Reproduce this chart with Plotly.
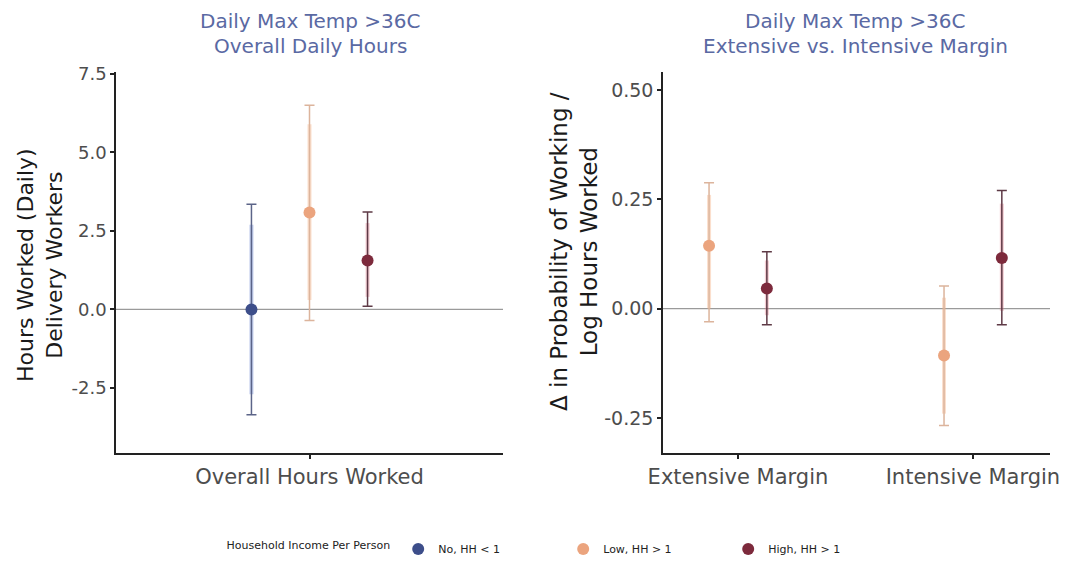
import plotly.graph_objects as go

# ---------------- data ----------------
legend_title = "Household Income Per Person"

# Left panel: Overall Hours Worked
left_category = ["Overall Hours Worked"]
left_groups = ["No, HH < 1", "Low, HH > 1", "High, HH > 1"]
left_est = [0.0, 3.09, 1.56]
left_lo95 = [-3.35, -0.35, 0.10]
left_hi95 = [3.35, 6.50, 3.10]
left_lo90 = [-2.70, 0.30, 0.40]
left_hi90 = [2.70, 5.90, 2.75]

# Right panel: Extensive vs Intensive margin
right_categories = ["Extensive Margin", "Intensive Margin"]
right_groups = ["Low, HH > 1", "High, HH > 1"]
# per group, values for [Extensive, Intensive]
right_est = {"Low, HH > 1": [0.144, -0.107], "High, HH > 1": [0.046, 0.116]}
right_lo95 = {"Low, HH > 1": [-0.030, -0.267], "High, HH > 1": [-0.037, -0.037]}
right_hi95 = {"Low, HH > 1": [0.288, 0.052], "High, HH > 1": [0.130, 0.270]}
right_lo90 = {"Low, HH > 1": [0.000, -0.240], "High, HH > 1": [-0.015, -0.005]}
right_hi90 = {"Low, HH > 1": [0.260, 0.025], "High, HH > 1": [0.110, 0.240]}

left_yticks = [-2.5, 0.0, 2.5, 5.0, 7.5]
right_yticks = [-0.25, 0.0, 0.25, 0.50]

title_line1 = "Daily Max Temp >36C"
left_title_line2 = "Overall Daily Hours"
right_title_line2 = "Extensive vs. Intensive Margin"
left_ytitle = "Hours Worked (Daily)<br>Delivery Workers"
right_ytitle = "Δ in Probability of Working /<br>Log Hours Worked"

# ---------------- style ----------------
FONT = "DejaVu Sans, Liberation Sans, sans-serif"
point_col = {"No, HH < 1": "#3d4e8a", "Low, HH > 1": "#eba47e", "High, HH > 1": "#7d2a3c"}
inner_col = {"No, HH < 1": "rgba(120,145,215,0.45)", "Low, HH > 1": "rgba(246,175,130,0.40)",
             "High, HH > 1": "rgba(220,110,125,0.35)"}
whisk_col = {"No, HH < 1": "#5b6488", "Low, HH > 1": "#dcb49c", "High, HH > 1": "#5e3a46"}
left_offsets = {"No, HH < 1": -0.18, "Low, HH > 1": 0.0, "High, HH > 1": 0.18}
right_offsets = {"Low, HH > 1": -0.123, "High, HH > 1": 0.123}

fig = go.Figure()


def add_pointrange(xaxis, yaxis, xs, est, lo95, hi95, lo90, hi90, g, showlegend):
    fig.add_trace(go.Scatter(
        x=xs, y=est, mode="markers", xaxis=xaxis, yaxis=yaxis,
        marker=dict(size=1, color="rgba(0,0,0,0)"),
        error_y=dict(type="data", symmetric=False,
                     array=[h - e for h, e in zip(hi90, est)],
                     arrayminus=[e - l for e, l in zip(est, lo90)],
                     color=inner_col[g], thickness=4, width=0),
        showlegend=False, hoverinfo="skip"))
    fig.add_trace(go.Scatter(
        x=xs, y=est, mode="markers", xaxis=xaxis, yaxis=yaxis,
        marker=dict(size=1, color="rgba(0,0,0,0)"),
        error_y=dict(type="data", symmetric=False,
                     array=[h - e for h, e in zip(hi95, est)],
                     arrayminus=[e - l for e, l in zip(est, lo95)],
                     color=whisk_col[g], thickness=1.5, width=5),
        showlegend=False, hoverinfo="skip"))
    fig.add_trace(go.Scatter(
        x=xs, y=est, mode="markers", xaxis=xaxis, yaxis=yaxis,
        marker=dict(size=12, color=point_col[g]),
        name=g, legendgroup=g, showlegend=showlegend))


for i, g in enumerate(left_groups):
    add_pointrange("x", "y", [0 + left_offsets[g]], [left_est[i]], [left_lo95[i]], [left_hi95[i]],
                   [left_lo90[i]], [left_hi90[i]], g, True)

for g in right_groups:
    xs = [k + 1 + right_offsets[g] for k in range(len(right_categories))]
    add_pointrange("x2", "y2", xs, right_est[g], right_lo95[g], right_hi95[g],
                   right_lo90[g], right_hi90[g], g, False)

axis_common = dict(showgrid=False, zeroline=False, showline=True, linecolor="#222222", linewidth=1.5,
                   ticks="outside", ticklen=4, tickcolor="#222222", tickwidth=1.5, automargin=False)

W, H = 1067, 564
ydom = [1 - 453 / H, 1 - 72 / H]
fig.update_layout(
    width=W, height=H,
    margin=dict(l=0, r=0, t=0, b=0, autoexpand=False),
    paper_bgcolor="white", plot_bgcolor="white",
    font=dict(family=FONT, color="#222222"),
    xaxis=dict(domain=[116 / W, 503 / W], range=[-0.6, 0.6],
               tickvals=[0], ticktext=left_category, anchor="y",
               tickfont=dict(family=FONT, size=21, color="#4d4d4d"), **axis_common),
    yaxis=dict(domain=ydom, range=[-4.57, 7.56], tickvals=left_yticks,
               ticktext=[f"{v:.1f}" for v in left_yticks], anchor="x",
               tickfont=dict(family=FONT, size=18, color="#4d4d4d"), **axis_common),
    xaxis2=dict(domain=[663 / W, 1050 / W], range=[0.681, 2.328],
                tickvals=[1, 2], ticktext=right_categories, anchor="y2",
                tickfont=dict(family=FONT, size=21, color="#4d4d4d"), **axis_common),
    yaxis2=dict(domain=ydom, range=[-0.33, 0.541], tickvals=right_yticks,
                ticktext=[f"{v:.2f}" for v in right_yticks], anchor="x2",
                tickfont=dict(family=FONT, size=19, color="#4d4d4d"), **axis_common),
    legend=dict(orientation="h", x=559 / W, xanchor="center", y=1 - 549 / H, yanchor="middle",
                font=dict(family=FONT, size=11, color="#222222"),
                title=dict(text=legend_title, font=dict(family=FONT, size=11, color="#222222")),
                entrywidth=120, bgcolor="rgba(0,0,0,0)"),
    showlegend=True,
)

for xr, yr in [("x domain", "y"), ("x2 domain", "y2")]:
    fig.add_shape(type="line", xref=xr, yref=yr, x0=0, x1=1, y0=0, y1=0,
                  line=dict(color="#9a9a9a", width=1.3), layer="below")

title_col = "#5a69a3"
for cx, l2 in [(310, left_title_line2), (855, right_title_line2)]:
    fig.add_annotation(text=title_line1, x=cx / W, y=1 - 21 / H, xref="paper", yref="paper",
                       xanchor="center", yanchor="middle", showarrow=False,
                       font=dict(family=FONT, size=20, color=title_col))
    fig.add_annotation(text=l2, x=cx / W, y=1 - 46 / H, xref="paper", yref="paper",
                       xanchor="center", yanchor="middle", showarrow=False,
                       font=dict(family=FONT, size=20, color=title_col))

fig.add_annotation(text=left_ytitle, x=40 / W, y=1 - 265 / H,
                   xref="paper", yref="paper", xanchor="center", yanchor="middle", textangle=-90,
                   showarrow=False, font=dict(family=FONT, size=22, color="#1a1a1a"))
fig.add_annotation(text=right_ytitle, x=574 / W, y=1 - 252 / H,
                   xref="paper", yref="paper", xanchor="center", yanchor="middle", textangle=-90,
                   showarrow=False, font=dict(family=FONT, size=23, color="#1a1a1a"))

fig.write_html("out.html", config={"displayModeBar": False},
               post_script="document.body.style.margin='0px';")
